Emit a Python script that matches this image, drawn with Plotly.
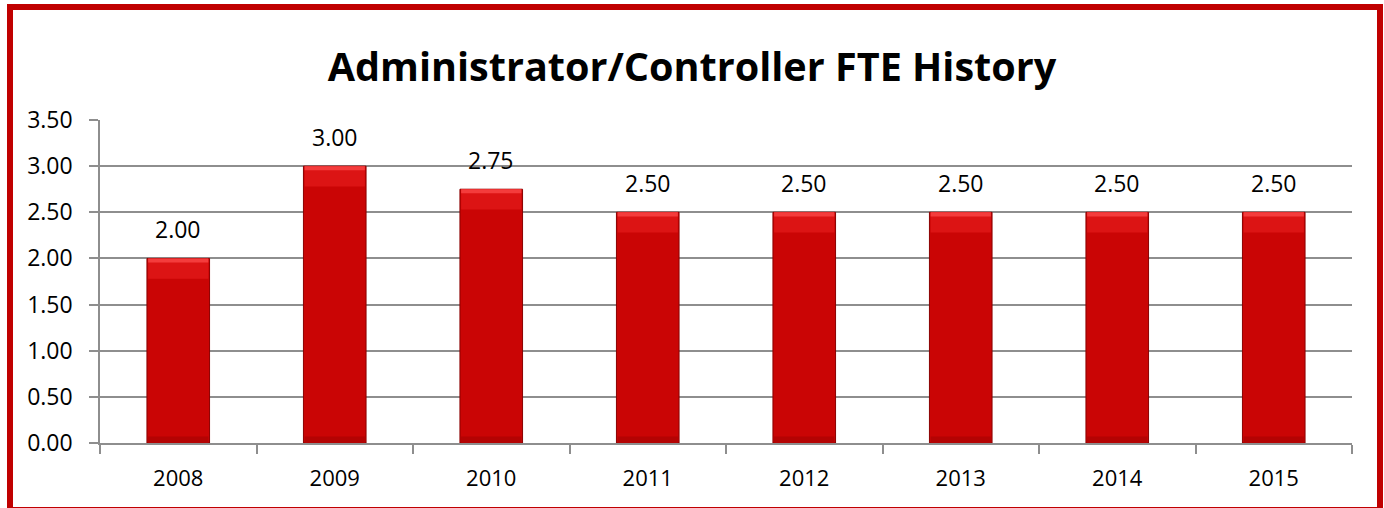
import plotly.graph_objects as go

years = ["2008", "2009", "2010", "2011", "2012", "2013", "2014", "2015"]
fte = [2.00, 3.00, 2.75, 2.50, 2.50, 2.50, 2.50, 2.50]
y_ticks = [0.0, 0.5, 1.0, 1.5, 2.0, 2.5, 3.0, 3.5]
title_text = "Administrator/Controller FTE History"

W, H = 1384, 508
ML, MR, MT, MB = 100, 32, 120, 65
FONT = "Open Sans"
GRID = "#8E8E8E"
RED = "#CA0505"
BORDER = "#C00000"

top_band = 0.22
top_edge = 0.045
bottom_band = 0.07

fig = go.Figure()
# main bars
fig.add_trace(go.Bar(
    x=years, y=fte, width=0.40,
    marker=dict(color=RED, line=dict(color="#8A0000", width=1)),
    hoverinfo="skip", showlegend=False,
))
# bevel: lighter top band
fig.add_trace(go.Bar(
    x=years, y=[top_band] * len(fte), base=[v - top_band for v in fte], width=0.385,
    marker=dict(color="#DC1414", line=dict(width=0)),
    hoverinfo="skip", showlegend=False,
))
# bevel: bright top edge
fig.add_trace(go.Bar(
    x=years, y=[top_edge] * len(fte), base=[v - top_edge for v in fte], width=0.385,
    marker=dict(color="#F43C3C", line=dict(width=0)),
    hoverinfo="skip", showlegend=False,
))
# bevel: darker bottom band
fig.add_trace(go.Bar(
    x=years, y=[bottom_band] * len(fte), base=[0] * len(fte), width=0.385,
    marker=dict(color="#B40303", line=dict(width=0)),
    hoverinfo="skip", showlegend=False,
))

for i, v in enumerate(fte):
    fig.add_annotation(x=i, y=v, xref="x", yref="y", text=f"{v:.2f}", showarrow=False,
                       yanchor="bottom", yshift=11,
                       font=dict(family=FONT, size=23, color="#000000"))

fig.update_layout(
    width=W, height=H,
    margin=dict(l=ML, r=MR, t=MT, b=MB, autoexpand=False),
    paper_bgcolor="white", plot_bgcolor="white",
    barmode="overlay",
    title=dict(text=f"<b>{title_text}</b>", x=0.5, xref="container", xanchor="center",
               y=1 - 67 / H, yref="container", yanchor="middle",
               font=dict(family=FONT, size=39.6, color="#000000")),
    font=dict(family=FONT, size=22, color="#000000"),
)
fig.update_xaxes(
    type="category", categoryorder="array", categoryarray=years,
    range=[-0.5, len(years) - 0.5], showgrid=False,
    showline=True, linecolor=GRID, linewidth=1.5,
    ticks="outside", tickson="boundaries", ticklen=9, tickcolor=GRID, tickwidth=1.5,
    ticklabelstandoff=15, tickangle=0,
    tickfont=dict(family=FONT, size=22, color="#000000"),
)
fig.update_yaxes(
    range=[0, 3.5], tickvals=y_ticks, tickformat=".2f",
    showgrid=True, gridcolor=GRID, gridwidth=1.5,
    showline=True, linecolor=GRID, linewidth=1.5,
    ticks="outside", ticklen=9, tickcolor=GRID, tickwidth=1.5,
    ticklabelstandoff=12, zeroline=False,
    tickfont=dict(family=FONT, size=23, color="#000000"),
)

# outer chart frame (decoration)
pw, ph = W - ML - MR, H - MT - MB
fig.add_shape(type="rect", xref="paper", yref="paper",
              x0=(10 - ML) / pw, x1=(1380 - ML) / pw,
              y0=(H - MB - 510) / ph, y1=(H - MB - 7) / ph,
              line=dict(color=BORDER, width=6), fillcolor="rgba(0,0,0,0)", layer="above")

fig.write_html("out.html", config={"displayModeBar": False},
               post_script="document.body.style.margin='0';")
